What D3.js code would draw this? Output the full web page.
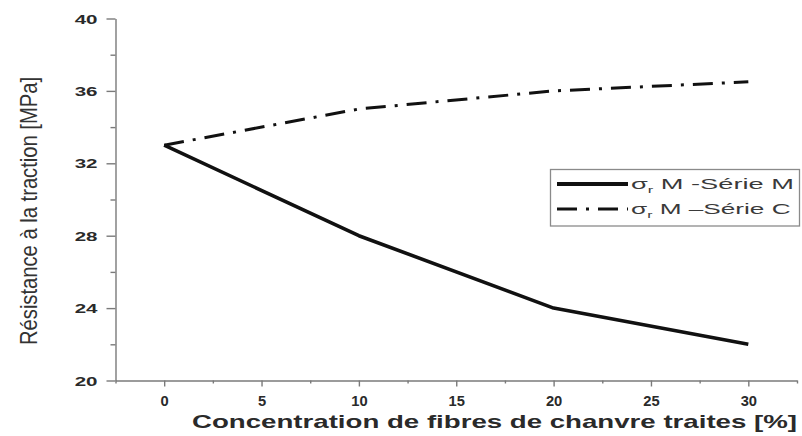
<!DOCTYPE html>
<html>
<head>
<meta charset="utf-8">
<script src="https://cdn.jsdelivr.net/npm/d3@7/dist/d3.min.js"></script>
<style>
  html, body { margin: 0; padding: 0; background: #fff; }
  svg { display: block; font-family: Arial, "Liberation Sans", sans-serif; }
</style>
</head>
<body>
<svg id="chart" width="802" height="436"></svg>
<script>
// Tensile strength versus treated hemp fibre content
const concentrations = [0, 10, 20, 30];
const serieM = [33, 28, 24, 22];
const serieC = [33, 35, 36, 36.5];

const xTickValues = [0, 5, 10, 15, 20, 25, 30];
const xMinorTicks = [-2.5, 2.5, 7.5, 12.5, 17.5, 22.5, 27.5, 32.5];
const yTickValues = [20, 24, 28, 32, 36, 40];
const yMinorTicks = [22, 26, 30, 34, 38];

const legendLabels = [
  { sigma: "σ", sub: "r", rest: " M -Série M", dash: null, width: 4 },
  { sigma: "σ", sub: "r", rest: " M –Série C", dash: "20 9 3 9", width: 3 }
];

const svg = d3.select("#chart");

const x = d3.scaleLinear().domain([-2.5, 32.5]).range([115.5, 797]);
const y = d3.scaleLinear().domain([20, 40]).range([380.5, 18.5]);

const axisColor = "#7a7a7a";
const labelColor = "#2a2a2a";

// widen a text element to a target width
function fitWidth(node, target) {
  if (node.getComputedTextLength() > 0) {
    d3.select(node).attr("textLength", target).attr("lengthAdjust", "spacingAndGlyphs");
  }
}

// ---- Y axis ----
const gy = svg.append("g").attr("transform", `translate(${x(-2.5)},0)`);
gy.call(d3.axisLeft(y).tickValues(yTickValues).tickSize(9).tickPadding(8).tickSizeOuter(0));
gy.append("g").call(d3.axisLeft(y).tickValues(yMinorTicks).tickSize(5).tickFormat("").tickSizeOuter(0))
  .select(".domain").remove();
gy.selectAll(".domain, line").attr("stroke", axisColor).attr("stroke-width", 1.4);
gy.selectAll("text")
  .attr("font-size", 13).attr("font-weight", "bold").attr("fill", labelColor)
  .attr("x", -18).attr("dy", "0.36em")
  .each(function () { fitWidth(this, this.getComputedTextLength() * 1.58); });

// ---- X axis ----
const gx = svg.append("g").attr("transform", `translate(0,${y(20)})`);
gx.call(d3.axisBottom(x).tickValues(xTickValues).tickSize(6).tickSizeOuter(0));
gx.append("g").call(d3.axisBottom(x).tickValues(xMinorTicks).tickSize(3).tickFormat("").tickSizeOuter(0))
  .select(".domain").remove();
gx.selectAll(".domain, line").attr("stroke", axisColor).attr("stroke-width", 1.4);
gx.selectAll("text")
  .attr("font-size", 14).attr("font-weight", "bold").attr("fill", labelColor)
  .attr("y", 25).attr("dy", 0)
  .each(function () { fitWidth(this, this.getComputedTextLength() * 1.05); });

// ---- Axis titles ----
svg.append("text")
  .attr("x", 192).attr("y", 428)
  .attr("font-size", 18.5).attr("font-weight", "bold").attr("fill", labelColor)
  .attr("textLength", 605).attr("lengthAdjust", "spacingAndGlyphs")
  .text("Concentration de fibres de chanvre traites [%]");

svg.append("g")
  .attr("transform", "translate(37,211) scale(1.3,1) rotate(-90)")
  .append("text")
  .attr("text-anchor", "middle")
  .attr("font-size", 18).attr("fill", "#333")
  .attr("textLength", 268).attr("lengthAdjust", "spacingAndGlyphs")
  .text("Résistance à la traction [MPa]");

// ---- Series lines ----
const line = d3.line().x(d => x(d[0])).y(d => y(d[1]));

svg.append("path")
  .datum(concentrations.map((c, i) => [c, serieC[i]]))
  .attr("d", line)
  .attr("fill", "none").attr("stroke", "#111").attr("stroke-width", 3)
  .attr("stroke-dasharray", "20 9 3 9");

svg.append("path")
  .datum(concentrations.map((c, i) => [c, serieM[i]]))
  .attr("d", line)
  .attr("fill", "none").attr("stroke", "#111").attr("stroke-width", 3.6)
  .attr("stroke-linejoin", "round");

// ---- Legend ----
const legend = svg.append("g");
legend.append("rect")
  .attr("x", 550.5).attr("y", 169.5).attr("width", 249).attr("height", 56.5)
  .attr("fill", "#fff").attr("stroke", "#8a8a8a").attr("stroke-width", 1.3);

const rowY = [184, 209];
legendLabels.forEach((d, i) => {
  legend.append("line")
    .attr("x1", 557).attr("x2", 628).attr("y1", rowY[i]).attr("y2", rowY[i])
    .attr("stroke", "#111").attr("stroke-width", d.width)
    .attr("stroke-dasharray", d.dash);
  const g = legend.append("g");
  const t = g.append("text").attr("x", 0).attr("y", 0)
    .attr("font-size", 15).attr("fill", "#3a3a3a");
  t.append("tspan").text(d.sigma);
  t.append("tspan").attr("font-size", 9).attr("dy", 4).text(d.sub);
  t.append("tspan").attr("dy", -4).text(d.rest);
  const w = t.node().getBBox().width;
  const target = i === 0 ? 163 : 160;
  g.attr("transform", `translate(631,${rowY[i] + 5}) scale(${target / w},1)`);
});
</script>
</body>
</html>
